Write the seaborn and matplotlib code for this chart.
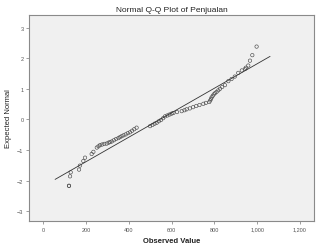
import matplotlib
matplotlib.use("Agg")
import matplotlib.pyplot as plt
import matplotlib.ticker as mticker
import numpy as np
import pandas as pd
import seaborn as sns

# Data
observed = [120, 120, 125, 128, 167, 171, 187, 195, 226, 234, 250, 258, 265, 275, 285,
            296, 305, 312, 320, 330, 340, 351, 358, 366, 375, 385, 395, 405, 415, 425, 436,
            499, 510, 520, 530, 540, 550, 560, 569, 580, 590, 600, 608,
            625, 647, 660, 670, 685, 700, 715, 730, 748, 760, 776,
            780, 784, 787, 792, 797, 803, 810, 818, 826, 836, 849,
            865, 880, 895, 911, 928, 943, 947, 958, 966, 977, 997]
expected = [-2.17, -2.17, -1.86, -1.73, -1.64, -1.51, -1.36, -1.25, -1.13, -1.06, -0.92, -0.88, -0.84, -0.82, -0.80,
            -0.79, -0.76, -0.74, -0.72, -0.68, -0.64, -0.61, -0.58, -0.55, -0.52, -0.49, -0.45, -0.42, -0.37, -0.32, -0.27,
            -0.22, -0.18, -0.14, -0.11, -0.06, -0.02, 0.04, 0.10, 0.13, 0.16, 0.19, 0.21,
            0.24, 0.27, 0.30, 0.33, 0.36, 0.40, 0.44, 0.47, 0.51, 0.54, 0.57,
            0.62, 0.67, 0.72, 0.77, 0.82, 0.86, 0.90, 0.95, 1.00, 1.06, 1.12,
            1.25, 1.32, 1.40, 1.52, 1.60, 1.65, 1.69, 1.76, 1.92, 2.10, 2.38]
fit_mean = 545
fit_sd = 250
line_x = [55, 1060]
x_ticks = [0, 200, 400, 600, 800, 1000, 1200]
y_ticks = [-3, -2, -1, 0, 1, 2, 3]

df = pd.DataFrame({"Observed Value": observed, "Expected Normal": expected})
line_df = pd.DataFrame({"x": line_x, "y": [(v - fit_mean) / fit_sd for v in line_x]})

sns.set_theme(style="white")
plt.rcParams["font.family"] = ["Liberation Sans", "DejaVu Sans"]

fig = plt.figure(figsize=(3.2, 2.51), dpi=100)
fig.patch.set_facecolor("white")
ax = fig.add_axes([0.0906, 0.1155, 0.8904, 0.8205])
ax.set_facecolor("#f0f0f0")

sns.lineplot(data=line_df, x="x", y="y", ax=ax, color="#333333", linewidth=0.6)
sns.scatterplot(data=df, x="Observed Value", y="Expected Normal", ax=ax,
                marker="o", s=6, facecolors="none", edgecolor="#4a4a4a", linewidth=0.45)

ax.set_xlim(-67, 1265)
ax.set_ylim(-3.32, 3.41)
ax.set_xticks(x_ticks)
ax.set_yticks(y_ticks)
ax.xaxis.set_major_formatter(mticker.FuncFormatter(lambda v, p: f"{int(v):,}"))
ax.tick_params(axis="both", which="major", length=2, width=0.5, color="#777777",
               labelsize=4, labelcolor="#555555", pad=2, bottom=True, left=True)
for s in ax.spines.values():
    s.set_color("#8a8a8a")
    s.set_linewidth(0.8)

ax.set_xlabel("Observed Value", fontsize=5.5, fontweight="bold", color="#222222", labelpad=4)
ax.set_ylabel("Expected Normal", fontsize=5.5, color="#222222", labelpad=4)
ax.set_title("Normal Q-Q Plot of Penjualan", fontsize=6, color="#222222", pad=3)

fig.savefig("out.png", dpi=100)
